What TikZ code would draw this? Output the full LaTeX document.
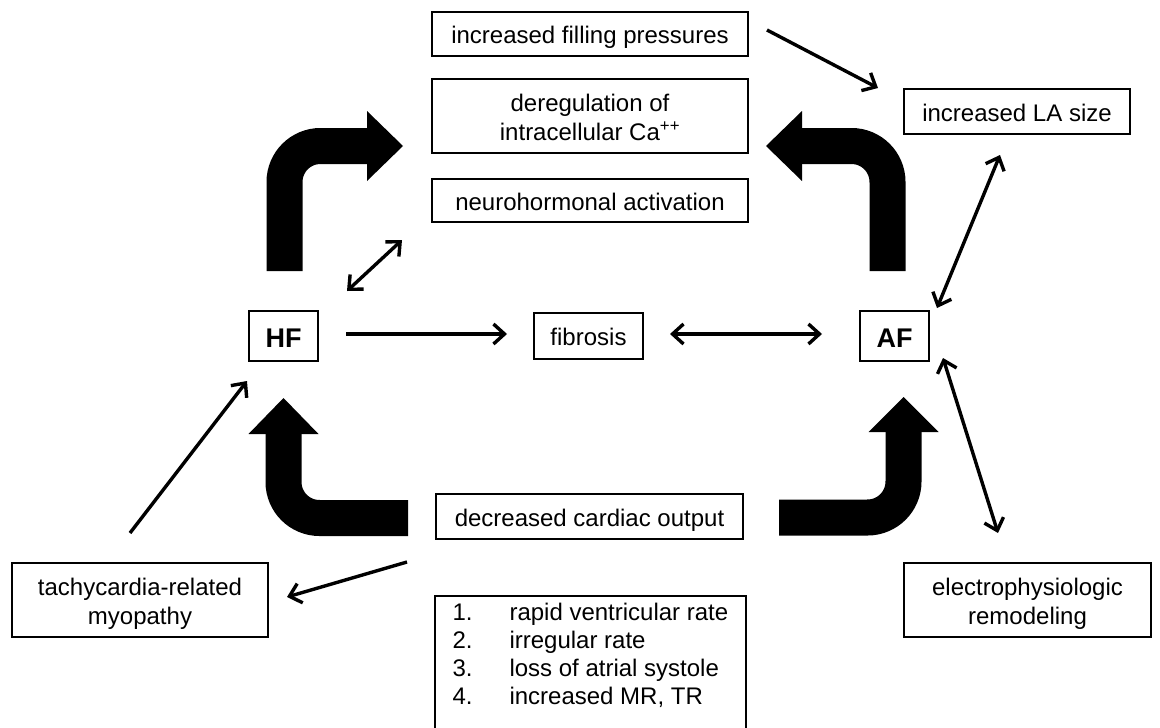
\documentclass[tikz,border=0pt]{standalone}
\usepackage{fontspec}
\setmainfont{Liberation Sans}
\usetikzlibrary{arrows.meta}
\begin{document}
\begin{tikzpicture}[x=1pt,y=-1pt,
  box/.style={draw, line width=1.8pt, inner sep=0pt,
    font=\fontsize{24}{29}\selectfont},
  one/.style={box, text height=21pt, text depth=2pt},
  two/.style={box, text height=19pt, text depth=28pt},
  bigbox/.style={box, text height=23.4pt, text depth=0pt,
    font=\fontsize{27}{32}\selectfont\bfseries},
  thin/.style={line width=3.4pt, -{Straight Barb[length=11pt,width=20pt]}},
  both/.style={line width=3.4pt, {Straight Barb[length=11pt,width=20pt]}-{Straight Barb[length=11pt,width=20pt]}},
  fat/.style={line width=36pt, rounded corners=36pt},
]
\useasboundingbox (0,0) rectangle (1160,728);

% boxes
\node[one, minimum width=316pt, minimum height=44pt] (fill) at (590,34) {increased filling pressures};
\node[two, minimum width=316pt, minimum height=74pt] (dereg) at (590,116)
  {\begin{tabular}[t]{@{}c@{}}deregulation of\\intracellular Ca\textsuperscript{++}\end{tabular}};
\node[one, minimum width=316pt, minimum height=43pt] (neuro) at (590,200.5) {neurohormonal activation};
\node[bigbox, minimum width=69pt, minimum height=50pt] (HF) at (283.5,336) {HF};
\node[one, minimum width=109pt, minimum height=46pt] (fib) at (588.5,336) {fibrosis};
\node[bigbox, minimum width=69pt, minimum height=50pt] (AF) at (894.5,336) {AF};
\node[one, minimum width=226pt, minimum height=45pt] (LA) at (1017,111.5) {increased LA size};
\node[two, minimum width=247pt, minimum height=74pt] (ep) at (1027.5,600)
  {\begin{tabular}[t]{@{}c@{}}electrophysiologic\\remodeling\end{tabular}};
\node[two, minimum width=256pt, minimum height=74pt] (tachy) at (140,600)
  {\begin{tabular}[t]{@{}c@{}}tachycardia-related\\myopathy\end{tabular}};
\node[one, minimum width=307pt, minimum height=45pt] (dco) at (589.5,516.5) {decreased cardiac output};
\node[box, anchor=north west, minimum width=311pt, inner xsep=15pt, inner ysep=4.4pt,
  text height=20pt, text depth=115pt,
  font=\fontsize{24}{28}\selectfont] (list) at (434,595)
  {\begin{tabular}[t]{@{}p{57pt}@{}l@{}}
   1. & rapid ventricular rate\\
   2. & irregular rate\\
   3. & loss of atrial systole\\
   4. & increased MR, TR
   \end{tabular}};

% end points of the thin connectors
\coordinate (fpS) at (767,30);   \coordinate (laW) at (878,88);
\coordinate (neS) at (402,240);  \coordinate (hfN) at (347,291);
\coordinate (hfE) at (346,334);  \coordinate (fbW) at (507,334);
\coordinate (fbE) at (670,334);  \coordinate (afW) at (822,334);
\coordinate (afN) at (937,308);  \coordinate (laS) at (1000,155);
\coordinate (afS) at (943,358);  \coordinate (epN) at (998,533);
\coordinate (tyN) at (130,533);  \coordinate (hfS) at (247,381);
\coordinate (dcS) at (407,562);  \coordinate (tyE) at (287,597);

\draw[thin] (fpS) -- (laW);
\draw[both] (neS) -- (hfN);
\draw[thin] (hfE) -- (fbW);
\draw[both] (fbE) -- (afW);
\draw[both] (afN) -- (laS);
\draw[both] (afS) -- (epN);
\draw[thin] (tyN) -- (hfS);
\draw[thin] (dcS) -- (tyE);

% thick bent arrows
\coordinate (tlA) at (284.5,271); \coordinate (tlB) at (284.5,146); \coordinate (tlC) at (368,146);
\draw[fat] (tlA) -- (tlB) -- (tlC);
\fill (367,111) -- (403,146) -- (367,181) -- cycle;

\coordinate (trA) at (887.5,271); \coordinate (trB) at (887.5,146); \coordinate (trC) at (801,146);
\draw[fat] (trA) -- (trB) -- (trC);
\fill (802,111) -- (766,146) -- (802,181) -- cycle;

\coordinate (blA) at (408,518); \coordinate (blB) at (283.5,518); \coordinate (blC) at (283.5,433);
\draw[fat] (blA) -- (blB) -- (blC);
\fill (248.5,434) -- (283.5,398) -- (318.5,434) -- cycle;

\coordinate (brA) at (779,517.5); \coordinate (brB) at (903.5,517.5); \coordinate (brC) at (903.5,431);
\draw[fat] (brA) -- (brB) -- (brC);
\fill (868.5,432) -- (903.5,397) -- (938.5,432) -- cycle;
\end{tikzpicture}
\end{document}
